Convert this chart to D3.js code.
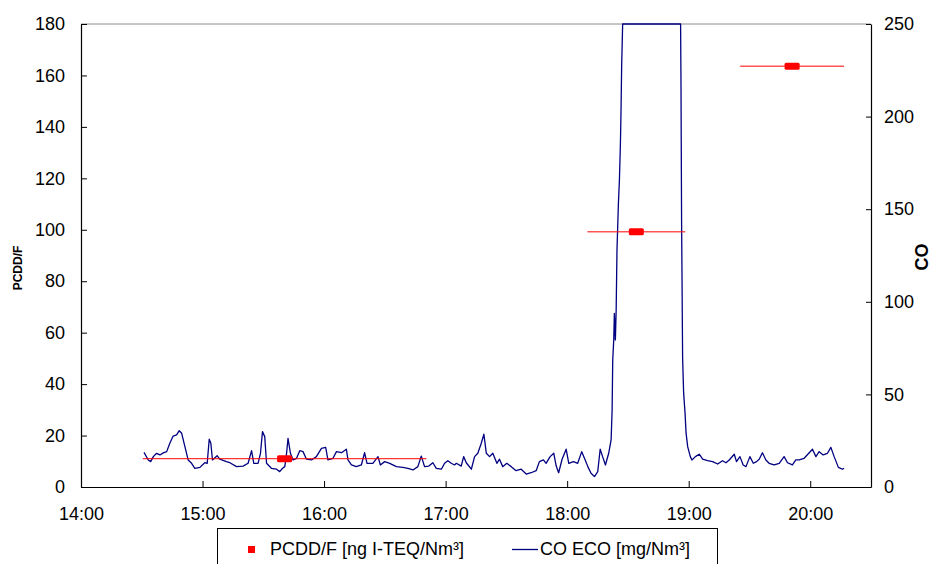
<!DOCTYPE html>
<html>
<head>
<meta charset="utf-8">
<script src="https://cdn.jsdelivr.net/npm/d3@7"></script>
<style>
  body { margin: 0; background: #fff; }
  svg { font-family: "Liberation Sans", Arial, sans-serif; }
  .axis text { font-size: 18px; fill: #000; }
  .axis path, .axis line { stroke: #000; }
</style>
</head>
<body>
<svg id="chart"></svg>
<script>
// CO ECO readings (mg/Nm3)
const coTimes = [
  "14:31:06","14:33:12","14:34:24","14:35:42","14:37:18","14:39:00","14:40:36","14:42:18","14:43:54","14:45:30",
  "14:47:12","14:48:30","14:49:42","14:51:18","14:52:54","14:54:36","14:56:12","14:58:42","15:01:06","15:02:18",
  "15:03:18","15:04:06","15:04:54","15:07:12","15:08:30","15:11:48","15:13:30","15:16:48","15:20:00","15:22:30",
  "15:24:12","15:25:18","15:27:24","15:28:36","15:29:36","15:30:42","15:31:36","15:34:00","15:36:30","15:38:06",
  "15:39:30","15:40:36","15:41:24","15:42:12","15:43:24","15:44:42","15:46:24","15:48:00","15:49:36","15:51:18",
  "15:53:48","15:56:12","15:58:42","16:00:48","16:01:54","16:04:24","16:06:06","16:08:36","16:11:00","16:11:48",
  "16:13:30","16:15:54","16:18:24","16:20:00","16:21:12","16:24:06","16:26:36","16:27:48","16:29:54","16:32:24",
  "16:35:42","16:38:54","16:41:24","16:43:54","16:46:18","16:48:00","16:49:36","16:51:42","16:53:42","16:55:24",
  "16:57:54","16:59:30","17:01:06","17:02:48","17:04:24","17:05:18","17:07:42","17:08:54","17:10:12","17:12:42",
  "17:14:18","17:15:54","17:17:36","17:18:54","17:20:06","17:21:42","17:23:18","17:25:18","17:26:36","17:28:12",
  "17:30:12","17:32:24","17:34:48","17:37:18","17:39:48","17:42:12","17:44:42","17:46:18","17:48:18","17:49:36",
  "17:51:36","17:53:24","17:54:36","17:55:48","17:57:30","17:59:30","18:00:48","18:03:06","18:05:12","18:07:12",
  "18:08:54","18:10:12","18:11:48","18:13:30","18:15:06","18:16:18","18:17:30","18:18:54","18:20:30","18:21:42",
  "18:22:12","18:22:30","18:23:00","18:23:18","18:23:48","18:24:12","18:24:36","18:25:18","18:25:48","18:26:18",
  "18:26:36","18:26:54","18:27:24","18:35:00","18:45:00","18:56:00","18:56:12","18:56:30","18:57:00","18:57:30",
  "18:58:12","18:58:42","18:59:30","19:00:48","19:01:36","19:03:18","19:05:12","19:06:54","19:09:18","19:11:48",
  "19:14:18","19:16:42","19:18:24","19:20:00","19:22:30","19:23:36","19:25:18","19:26:54","19:28:18","19:30:12",
  "19:31:54","19:33:30","19:34:48","19:36:24","19:38:06","19:39:42","19:42:12","19:44:42","19:47:06","19:48:48",
  "19:51:12","19:52:54","19:54:30","19:57:00","19:59:30","20:01:06","20:02:48","20:04:24","20:06:24","20:08:30",
  "20:10:12","20:11:48","20:13:54","20:15:54","20:16:42"
];
const coValues = [
  18.7,14.6,13.7,16.4,18.2,17.3,18.4,19.1,23.8,27.5,
  28.1,30.4,29.0,21.8,14.6,12.8,10.1,10.6,13.1,12.8,
  25.8,23.6,14.6,16.9,15.0,13.7,13.1,11.0,11.3,12.8,
  19.6,12.8,12.8,18.2,29.9,27.2,12.8,10.1,9.6,8.3,
  10.1,11.0,17.3,26.3,18.2,14.6,15.5,19.6,19.1,15.0,
  14.6,16.4,20.9,21.4,14.6,15.5,19.1,18.5,20.4,14.6,
  11.9,11.0,11.9,18.5,12.8,12.8,16.4,11.9,13.7,12.8,
  11.0,10.6,10.1,9.2,11.0,16.7,11.0,11.3,13.1,10.1,
  9.6,12.8,14.2,12.8,11.9,12.8,11.3,16.4,13.1,9.6,
  16.4,18.2,23.6,28.5,18.2,16.4,18.2,12.8,15.0,11.0,
  12.8,11.0,8.8,9.6,7.0,7.7,8.8,13.7,14.6,12.8,
  16.4,18.2,11.3,7.7,15.0,20.4,12.8,13.7,12.8,19.1,
  14.6,11.0,7.4,5.6,8.3,20.4,16.4,11.9,18.2,25.4,
  41.6,68.6,79.4,93.8,79.4,95.6,128,153,165.8,185.6,
  203.6,227,250,250,250,250,217,142.6,69.7,50.8,
  40,29.2,21.8,16.4,14.6,16.4,17.7,15.0,14.2,13.7,
  12.4,14.2,13.1,14.6,17.7,13.7,16.4,11.9,11.0,16.4,
  12.8,13.7,15.0,18.5,14.6,12.8,11.9,12.8,16.4,13.1,
  11.9,14.6,14.6,15.5,18.5,20.4,16.4,19.1,17.3,18.2,
  21.4,16.4,10.6,9.6,10.1
];

// PCDD/F samples (ng I-TEQ/Nm3) with sampling period
const pcddStart = ["14:30:30", "18:10:00", "19:25:24"];
const pcddEnd = ["16:50:30", "18:58:18", "20:16:42"];
const pcddValues = [11.0, 99.2, 163.6];

const leftTicks = [0, 20, 40, 60, 80, 100, 120, 140, 160, 180];
const rightTicks = [0, 50, 100, 150, 200, 250];
const xStart = "14:00:00";
const xEnd = "20:30:00";

const width = 931;
const height = 564;
const parseTime = d3.timeParse("%H:%M:%S");

const svg = d3.select("#chart")
  .attr("width", width)
  .attr("height", height);

const plotLeft = 81, plotRight = 871, plotTop = 24, plotBottom = 487;

const x = d3.scaleTime()
  .domain([parseTime(xStart), parseTime(xEnd)])
  .range([plotLeft, plotRight]);
const yL = d3.scaleLinear().domain([0, 180]).range([plotBottom, plotTop]);
const yR = d3.scaleLinear().domain([0, 250]).range([plotBottom, plotTop]);

// top border of plot area
svg.append("line")
  .attr("x1", plotLeft).attr("x2", plotRight)
  .attr("y1", plotTop).attr("y2", plotTop)
  .attr("stroke", "#8c8c8c");

// axes
svg.append("g")
  .attr("class", "axis")
  .attr("transform", `translate(${plotLeft},0)`)
  .call(d3.axisLeft(yL).tickValues(leftTicks).tickSize(-6).tickSizeOuter(0).tickPadding(16));

svg.append("g")
  .attr("class", "axis")
  .attr("transform", `translate(${plotRight},0)`)
  .call(d3.axisRight(yR).tickValues(rightTicks).tickSize(-5).tickSizeOuter(0).tickPadding(13));

svg.append("g")
  .attr("class", "axis")
  .attr("transform", `translate(0,${plotBottom})`)
  .call(d3.axisBottom(x)
    .ticks(d3.timeHour.every(1))
    .tickFormat(d3.timeFormat("%H:%M"))
    .tickSize(-6).tickSizeOuter(0).tickPadding(20));

svg.selectAll(".axis .domain").attr("stroke-width", 1.2);

// axis titles
svg.append("text")
  .attr("transform", "translate(22,268) rotate(-90)")
  .attr("text-anchor", "middle")
  .style("font-size", "12px")
  .style("font-weight", "bold")
  .text("PCDD/F");

svg.append("text")
  .attr("transform", "translate(928,257) rotate(-90)")
  .attr("text-anchor", "middle")
  .style("font-size", "18px")
  .style("font-weight", "bold")
  .text("CO");

// CO line
const coData = coTimes.map((t, i) => ({ t: parseTime(t), v: coValues[i] }));
svg.append("path")
  .datum(coData)
  .attr("fill", "none")
  .attr("stroke", "#000080")
  .attr("stroke-width", 1.3)
  .attr("stroke-linejoin", "round")
  .attr("d", d3.line().x(d => x(d.t)).y(d => yR(d.v)));

// PCDD/F samples: sampling period bar + marker
const pcdd = pcddValues.map((v, i) => ({
  s: parseTime(pcddStart[i]),
  e: parseTime(pcddEnd[i]),
  v: v
}));

svg.selectAll(".errbar")
  .data(pcdd)
  .enter()
  .append("line")
  .attr("class", "errbar")
  .attr("x1", d => x(d.s))
  .attr("x2", d => x(d.e))
  .attr("y1", d => yL(d.v))
  .attr("y2", d => yL(d.v))
  .attr("stroke", "#ff0000")
  .attr("stroke-width", 1);

svg.selectAll(".pmark")
  .data(pcdd)
  .enter()
  .append("rect")
  .attr("class", "pmark")
  .attr("x", d => (x(d.s) + x(d.e)) / 2 - 7.5)
  .attr("y", d => yL(d.v) - 3.5)
  .attr("width", 15)
  .attr("height", 7)
  .attr("rx", 1.5)
  .attr("fill", "#ff0000");

// legend
const legend = svg.append("g");
legend.append("rect")
  .attr("x", 217.5).attr("y", 528.5)
  .attr("width", 500).attr("height", 50)
  .attr("fill", "#fff")
  .attr("stroke", "#000");

legend.append("rect")
  .attr("x", 248).attr("y", 546)
  .attr("width", 7).attr("height", 7)
  .attr("fill", "#ff0000");
legend.append("text")
  .attr("x", 270).attr("y", 555)
  .style("font-size", "18px")
  .text("PCDD/F [ng I-TEQ/Nm³]");

legend.append("line")
  .attr("x1", 512).attr("x2", 538)
  .attr("y1", 549.5).attr("y2", 549.5)
  .attr("stroke", "#000080")
  .attr("stroke-width", 1.3);
legend.append("text")
  .attr("x", 540).attr("y", 555)
  .style("font-size", "18px")
  .text("CO ECO [mg/Nm³]");
</script>
</body>
</html>
